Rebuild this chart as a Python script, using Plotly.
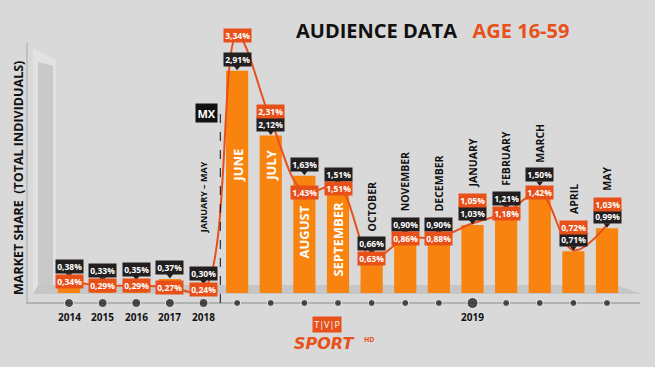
import plotly.graph_objects as go

# ---------------- data ----------------
categories = ["2014", "2015", "2016", "2017", "2018",
              "JUNE", "JULY", "AUGUST", "SEPTEMBER", "OCTOBER", "NOVEMBER",
              "DECEMBER", "JANUARY", "FEBRUARY", "MARCH", "APRIL", "MAY"]
bar_values = [0.38, 0.33, 0.35, 0.37, 0.30,
              2.91, 2.12, 1.63, 1.51, 0.66, 0.90, 0.90, 1.03, 1.21, 1.50, 0.71, 0.99]
line_values = [0.34, 0.29, 0.29, 0.27, 0.24,
               3.34, 2.31, 1.43, 1.51, 0.63, 0.86, 0.88, 1.05, 1.18, 1.42, 0.72, 1.03]
year_labels = ["2014", "2015", "2016", "2017", "2018",
               "", "", "", "", "", "", "", "2019", "", "", "", ""]
inside_months = ["JUNE", "JULY", "AUGUST", "SEPTEMBER"]
outside_months = ["OCTOBER", "NOVEMBER", "DECEMBER", "JANUARY",
                  "FEBRUARY", "MARCH", "APRIL", "MAY"]
period_label = "JANUARY – MAY"
title_main = "AUDIENCE DATA"
title_sub = "AGE 16-59"
y_title = "MARKET SHARE  (TOTAL INDIVIDUALS)"

# ---------------- styling / layout ----------------
W, H = 655, 367
L, R, T, B = 25, 10, 30, 57          # whole plotting region: y 30..310
PW, PH = W - L - R, H - T - B        # 620 x 280
MAIN_BOTTOM = 293                    # floor of the bars (px)
MAIN_H = MAIN_BOTTOM - T             # 263
XR = [-1.3086, 17.130]
K = 82.0                             # px per unit of market share
YR = [0.2, 0.2 + MAIN_H / K]

BG = "#d9d9d9"
ORANGE = "#f8840f"
RED = "#e8501a"
DARK = "#231f20"
FONT = "Open Sans"


def ypx(v):
    return T + (YR[1] - v) / (YR[1] - YR[0]) * MAIN_H


def pyp(py):
    return 1 - (py - T) / PH


def pxp(px):
    return (px - L) / PW


def fmt(v):
    return f"{v:.2f}".replace(".", ",") + "%"


def note(**kw):
    kw.setdefault("showarrow", False)
    kw.setdefault("xanchor", "center")
    kw.setdefault("yanchor", "middle")
    return kw


fig = go.Figure()

fig.add_trace(go.Bar(x=categories, y=bar_values, width=0.66,
                     marker=dict(color=ORANGE, line=dict(width=0)),
                     hoverinfo="skip"))

fig.add_trace(go.Scatter(x=categories, y=line_values, mode="lines",
                         line=dict(color=RED, width=2, shape="spline", smoothing=1.0),
                         cliponaxis=False, hoverinfo="skip"))

fig.add_trace(go.Scatter(x=categories, y=[v + 3.5 / K for v in bar_values],
                         mode="markers", cliponaxis=False, hoverinfo="skip",
                         marker=dict(symbol="triangle-down", size=6, color=DARK)))

dot_sizes = [9 if yl else 7 for yl in year_labels]
dot_sizes[categories.index("JANUARY")] = 11
fig.add_trace(go.Scatter(x=categories, y=[0.5] * len(categories), mode="markers",
                         yaxis="y2", cliponaxis=False, hoverinfo="skip",
                         marker=dict(size=dot_sizes, color="#111111")))

ann = []
shapes = []

for i, (c, bv, lv) in enumerate(zip(categories, bar_values, line_values)):
    top = ypx(bv)
    black_c = top - 4 - 6.5
    ann.append(note(x=i, y=bv, xref="x", yref="y", text=f"<b>{fmt(bv)}</b>",
                    yanchor="bottom", yshift=4, bgcolor=DARK, borderpad=1.2,
                    font=dict(family=FONT, size=8.5, color="white")))
    oc = ypx(lv)
    if lv > bv:
        oc = min(oc, black_c - 13.5)
    else:
        oc = max(oc, black_c + 13.5)
    ann.append(note(x=i, y=lv, xref="x", yref="y", text=f"<b>{fmt(lv)}</b>",
                    yshift=ypx(lv) - oc, bgcolor=RED, borderpad=1.2,
                    font=dict(family=FONT, size=8.5, color="white")))
    upper = min(black_c, oc) - 6.5
    lower = max(black_c, oc) + 6.5
    if c in inside_months:
        top_px = max(top + 12, lower + 5, 147)
        ann.append(note(x=i, y=bv, xref="x", yref="y", text=f"<b>{c}</b>",
                        textangle=-90, yanchor="top", yshift=-(top_px - top),
                        font=dict(family=FONT, size=13, color="white")))
    elif c in outside_months:
        ann.append(note(x=i, y=bv, xref="x", yref="y", text=f"<b>{c}</b>",
                        textangle=-90, yanchor="bottom", yshift=top - (upper - 5),
                        font=dict(family=FONT, size=10.5, color="#111111")))
    if year_labels[i]:
        ann.append(note(x=i, y=pyp(317), xref="x", yref="paper",
                        text=f"<b>{year_labels[i]}</b>",
                        font=dict(family=FONT, size=10, color="#111111")))

# period separator + labels
sep_x = 4.5
shapes.append(dict(type="line", xref="x", yref="paper", x0=sep_x, x1=sep_x,
                   y0=pyp(303), y1=pyp(113),
                   line=dict(color="#111111", width=1, dash="dash"), layer="above"))
ann.append(note(x=sep_x, y=pyp(113), xref="x", yref="paper", text="<b>MX</b>",
                xanchor="right", xshift=-2, bgcolor="#111111", borderpad=1.5,
                font=dict(family=FONT, size=11, color="white")))
ann.append(note(x=sep_x, y=pyp(197), xref="x", yref="paper",
                text=f"<b>{period_label}</b>", textangle=-90, xshift=-17,
                font=dict(family=FONT, size=9, color="#111111")))

# backdrop: wall + floor
shapes.append(dict(type="path", xref="paper", yref="paper", layer="below",
                   path=f"M {pxp(33)},{pyp(48)} L {pxp(56)},{pyp(60)} L {pxp(56)},{pyp(293)} "
                        f"L {pxp(33)},{pyp(293)} Z",
                   fillcolor="#e2e2e2", line=dict(width=0)))
shapes.append(dict(type="path", xref="paper", yref="paper", layer="below",
                   path=f"M {pxp(38)},{pyp(62)} L {pxp(53)},{pyp(66)} L {pxp(53)},{pyp(288)} "
                        f"L {pxp(38)},{pyp(288)} Z",
                   fillcolor="#c9c9c9", line=dict(width=0)))
shapes.append(dict(type="path", xref="paper", yref="paper", layer="below",
                   path=f"M {pxp(38)},{pyp(285)} L {pxp(615)},{pyp(285)} L {pxp(643)},{pyp(294)} "
                        f"L {pxp(33)},{pyp(294)} Z",
                   fillcolor="#c6c6c6", line=dict(width=0)))
shapes.append(dict(type="line", xref="paper", yref="paper", layer="below",
                   x0=pxp(26), x1=pxp(640), y0=pyp(303), y1=pyp(303),
                   line=dict(color="#8c8c8c", width=1)))
shapes.append(dict(type="line", xref="paper", yref="paper", layer="below",
                   x0=pxp(27), x1=pxp(27), y0=pyp(43), y1=pyp(303),
                   line=dict(color="#a8a8a8", width=1)))

# title
ann.append(note(x=pxp(432), y=pyp(31), xref="paper", yref="paper",
                text=f"<b>{title_main}</b>   <b><span style='color:{RED}'>{title_sub}</span></b>",
                font=dict(family=FONT, size=20, color="#111111")))
# y title
ann.append(note(x=pxp(18), y=pyp(178), xref="paper", yref="paper",
                text=f"<b>{y_title}</b>", textangle=-90,
                font=dict(family=FONT, size=12.5, color="#111111")))
# logo
ann.append(note(x=pxp(327), y=pyp(324.5), xref="paper", yref="paper",
                text="T|V|P", bgcolor=RED, borderpad=1.2,
                font=dict(family=FONT, size=9, color="white")))
ann.append(note(x=pxp(324), y=pyp(343), xref="paper", yref="paper",
                text="<b><i>SPORT</i></b>",
                font=dict(family="DejaVu Sans", size=16, color=RED)))
ann.append(note(x=pxp(370), y=pyp(339), xref="paper", yref="paper",
                text="<b>HD</b>", font=dict(family=FONT, size=7, color=RED)))

fig.update_layout(
    template="none",
    width=W, height=H,
    margin=dict(l=L, r=R, t=T, b=B, pad=0, autoexpand=False),
    paper_bgcolor=BG, plot_bgcolor="rgba(0,0,0,0)",
    showlegend=False,
    xaxis=dict(type="category", range=XR, showgrid=False, showticklabels=False,
               zeroline=False, showline=False, ticks="", automargin=False),
    yaxis=dict(range=YR, domain=[(PH - MAIN_H) / PH, 1], showgrid=False,
               showticklabels=False, zeroline=False, showline=False, ticks="",
               automargin=False),
    yaxis2=dict(range=[0, 1], domain=[0, 14 / PH], anchor="x", showgrid=False,
                showticklabels=False, zeroline=False, showline=False, ticks="",
                automargin=False),
    annotations=ann, shapes=shapes,
)

fig.write_html("out.html",
               config={"displayModeBar": False, "staticPlot": True},
               post_script="document.body.style.margin='0px';"
                           "document.body.style.background='#d9d9d9';")
